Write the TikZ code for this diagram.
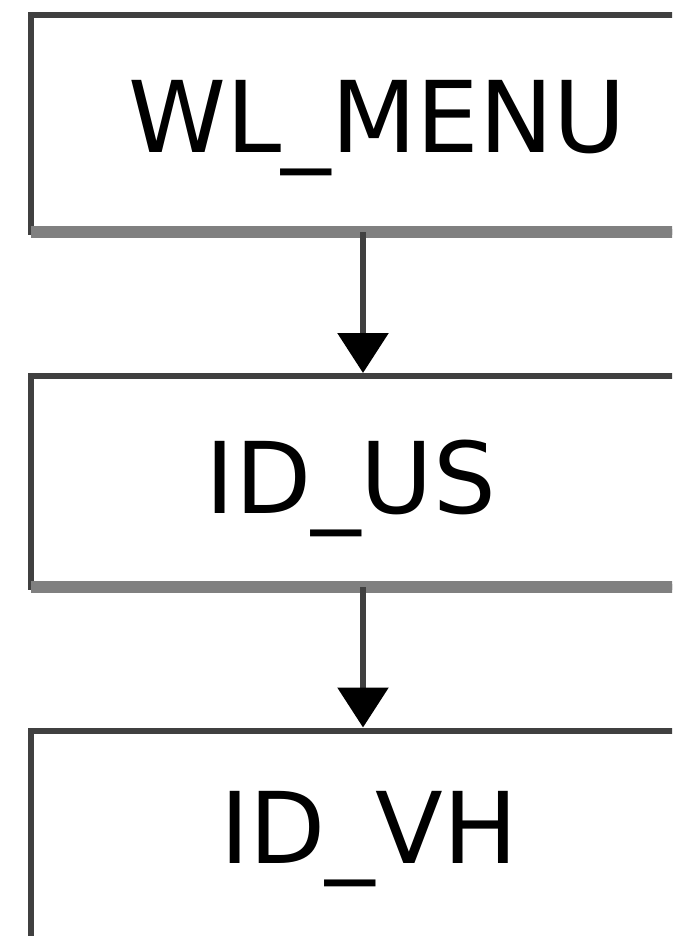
\documentclass[tikz,border=0pt]{standalone}
\usepackage{fontspec}
\setmainfont{DejaVu Sans}
\usetikzlibrary{arrows.meta}

\begin{document}
\begin{tikzpicture}[x=1pt, y=-1pt,
  box/.style={draw=black!75, line width=6pt, minimum width=664pt,
    inner sep=0pt, outer sep=0pt},
  shadowline/.style={draw=black!50, line width=12pt},
  lbl/.style={anchor=base, inner sep=0pt, font=\fontsize{99}{110}\selectfont},
  flow/.style={draw=black!75, line width=6pt,
    -{Triangle[width=50pt,length=40pt,color=black]}, shorten >=3pt}]

  \path[use as bounding box, clip] (0,0) rectangle (672,936);

  % Call chain boxes (cut off on the right and at the bottom)

  \node [box, minimum height=217pt] (menu) at (363,123.5) {};
  \node [box, minimum height=211pt] (us) at (363,481.5) {};
  \node [box, minimum height=300pt] (vh) at (363,880.5) {};

  \draw [shadowline] (menu.south west) -- (menu.south east);
  \draw [shadowline] (us.south west) -- (us.south east);

  % Names of the routines

  \node [lbl] (menutxt) at (377,153) {WL\_MENU};
  \node [lbl] (ustxt) at (351,513) {ID\_US};
  \node [lbl] (vhtxt) at (369,863) {ID\_VH};

  % Calls

  \draw [flow] (menu.south) -- (us.north);
  \draw [flow] (us.south) -- (vh.north);
\end{tikzpicture}
\end{document}
